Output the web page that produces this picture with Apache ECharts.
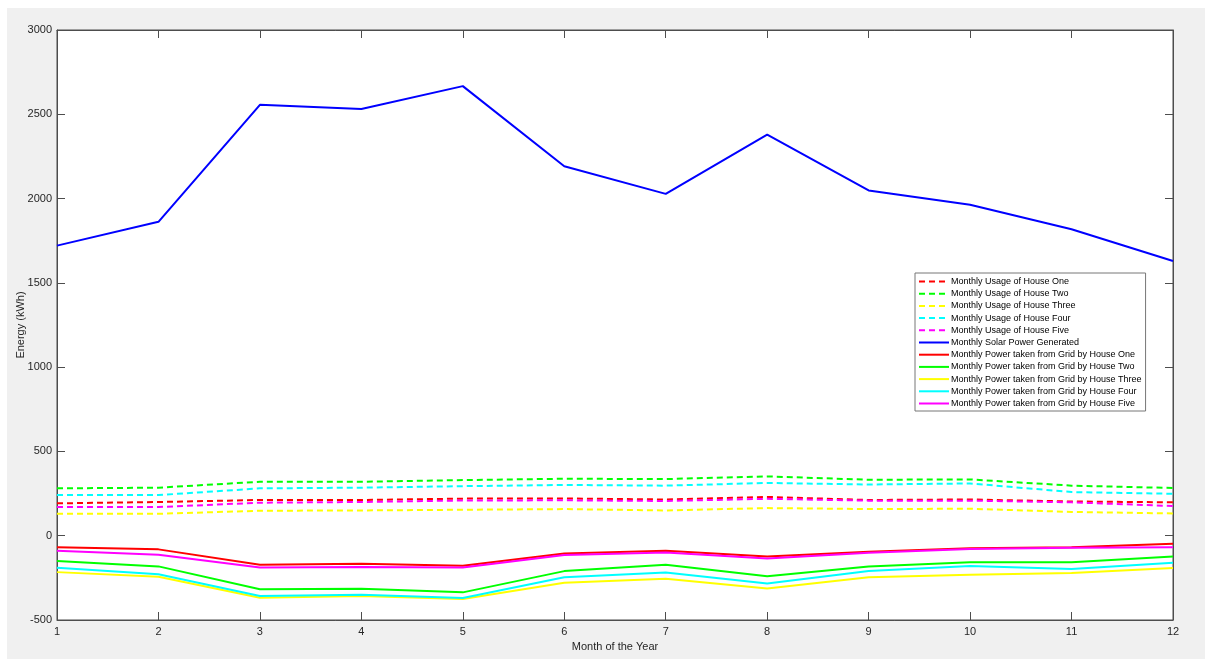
<!DOCTYPE html>
<html>
<head>
<meta charset="utf-8">
<title>Monthly Energy</title>
<script src="https://cdn.jsdelivr.net/npm/echarts@6/dist/echarts.min.js"></script>
<style>
  html, body { margin: 0; padding: 0; background: #ffffff; }
  #chart { width: 1205px; height: 659px; }
</style>
</head>
<body>
<div id="chart"></div>
<script>
// Months on the x axis
const months = [1, 2, 3, 4, 5, 6, 7, 8, 9, 10, 11, 12];

// Monthly usage per house (kWh)
const usageHouseOne   = [192, 200, 212, 212, 220, 221, 215, 230, 212, 215, 203, 198];
const usageHouseTwo   = [281, 285, 320, 320, 330, 338, 336, 352, 332, 334, 297, 283];
const usageHouseThree = [130, 130, 148, 150, 154, 158, 150, 164, 158, 160, 141, 132];
const usageHouseFour  = [241, 241, 281, 285, 294, 301, 297, 313, 304, 310, 259, 249];
const usageHouseFive  = [170, 170, 196, 200, 209, 210, 206, 219, 208, 208, 198, 176];

// Monthly solar generation (kWh)
const solarGenerated  = [1721, 1862, 2556, 2531, 2667, 2192, 2028, 2380, 2048, 1963, 1818, 1630];

// Monthly power taken from the grid per house (kWh)
const gridHouseOne    = [-69, -81, -172, -166, -178, -105, -89, -123, -95, -75, -69, -47];
const gridHouseTwo    = [-150, -182, -318, -314, -336, -210, -172, -241, -182, -158, -158, -123];
const gridHouseThree  = [-216, -243, -368, -358, -376, -279, -255, -313, -247, -231, -221, -192];
const gridHouseFour   = [-190, -228, -358, -350, -370, -247, -218, -283, -210, -180, -198, -160];
const gridHouseFive   = [-89, -113, -188, -186, -188, -115, -99, -135, -101, -79, -71, -69];

const seriesDefs = [
  { name: 'Monthly Usage of House One', data: usageHouseOne, color: '#ff0000', dashed: true },
  { name: 'Monthly Usage of House Two', data: usageHouseTwo, color: '#00ff00', dashed: true },
  { name: 'Monthly Usage of House Three', data: usageHouseThree, color: '#ffff00', dashed: true },
  { name: 'Monthly Usage of House Four', data: usageHouseFour, color: '#00ffff', dashed: true },
  { name: 'Monthly Usage of House Five', data: usageHouseFive, color: '#ff00ff', dashed: true },
  { name: 'Monthly Solar Power Generated', data: solarGenerated, color: '#0000ff', dashed: false },
  { name: 'Monthly Power taken from Grid by House One', data: gridHouseOne, color: '#ff0000', dashed: false },
  { name: 'Monthly Power taken from Grid by House Two', data: gridHouseTwo, color: '#00ff00', dashed: false },
  { name: 'Monthly Power taken from Grid by House Three', data: gridHouseThree, color: '#ffff00', dashed: false },
  { name: 'Monthly Power taken from Grid by House Four', data: gridHouseFour, color: '#00ffff', dashed: false },
  { name: 'Monthly Power taken from Grid by House Five', data: gridHouseFive, color: '#ff00ff', dashed: false }
];

const axisGrey = '#4d4d4d';
const fontFamily = 'Liberation Sans, Arial, sans-serif';
const labelStyle = { color: '#262626', fontSize: 11, fontFamily: fontFamily };
const plainNumber = function (v) { return String(v); };

const chart = echarts.init(document.getElementById('chart'), null, { renderer: 'canvas' });

const series = seriesDefs.map(function (s) {
  return {
    name: s.name,
    type: 'line',
    xAxisIndex: 0,
    yAxisIndex: 0,
    symbol: 'none',
    silent: true,
    animation: false,
    color: s.color,
    lineStyle: {
      color: s.color,
      width: 2,
      type: s.dashed ? [6, 4] : 'solid'
    },
    data: months.map(function (m, i) { return [m, s.data[i]]; })
  };
});

const boxTick = { show: true, inside: true, length: 8, lineStyle: { color: axisGrey } };
const boxLine = { show: true, onZero: false, lineStyle: { color: axisGrey } };

const option = {
  backgroundColor: '#ffffff',
  animation: false,
  graphic: [{
    type: 'rect',
    z: -10,
    silent: true,
    shape: { x: 7, y: 8, width: 1198, height: 651 },
    style: { fill: '#f0f0f0' }
  }],
  grid: {
    left: 57, right: 32, top: 30, bottom: 39,
    outerBoundsMode: 'none',
    containLabel: false,
    show: true,
    backgroundColor: '#ffffff',
    borderColor: axisGrey,
    borderWidth: 1
  },
  xAxis: [{
    type: 'value',
    position: 'bottom',
    min: 1, max: 12, interval: 1,
    name: 'Month of the Year',
    nameLocation: 'middle',
    nameGap: 21,
    nameMoveOverlap: false,
    nameTextStyle: labelStyle,
    axisLine: boxLine,
    axisTick: boxTick,
    axisLabel: Object.assign({ margin: 6, formatter: plainNumber }, labelStyle),
    splitLine: { show: false }
  }, {
    type: 'value',
    position: 'top',
    min: 1, max: 12, interval: 1,
    axisLine: boxLine,
    axisTick: boxTick,
    axisLabel: { show: false },
    splitLine: { show: false }
  }],
  yAxis: [{
    type: 'value',
    position: 'left',
    min: -500, max: 3000, interval: 500,
    name: 'Energy (kWh)',
    nameLocation: 'middle',
    nameGap: 31,
    nameMoveOverlap: false,
    nameTextStyle: labelStyle,
    axisLine: boxLine,
    axisTick: boxTick,
    axisLabel: Object.assign({ margin: 5, formatter: plainNumber }, labelStyle),
    splitLine: { show: false }
  }, {
    type: 'value',
    position: 'right',
    min: -500, max: 3000, interval: 500,
    axisLine: boxLine,
    axisTick: boxTick,
    axisLabel: { show: false },
    splitLine: { show: false }
  }],
  legend: {
    orient: 'vertical',
    left: 915,
    top: 273,
    backgroundColor: '#ffffff',
    borderColor: '#777777',
    borderWidth: 1,
    borderRadius: 0,
    padding: [4, 4, 3, 3],
    itemWidth: 30,
    itemHeight: 10,
    itemGap: 3.2,
    selectedMode: false,
    itemStyle: { opacity: 0 },
    textStyle: { color: '#000000', fontSize: 9, fontFamily: fontFamily, padding: [0, 0, 0, -3] },
    data: seriesDefs.map(function (s) { return s.name; })
  },
  series: series
};

chart.setOption(option);
</script>
</body>
</html>
